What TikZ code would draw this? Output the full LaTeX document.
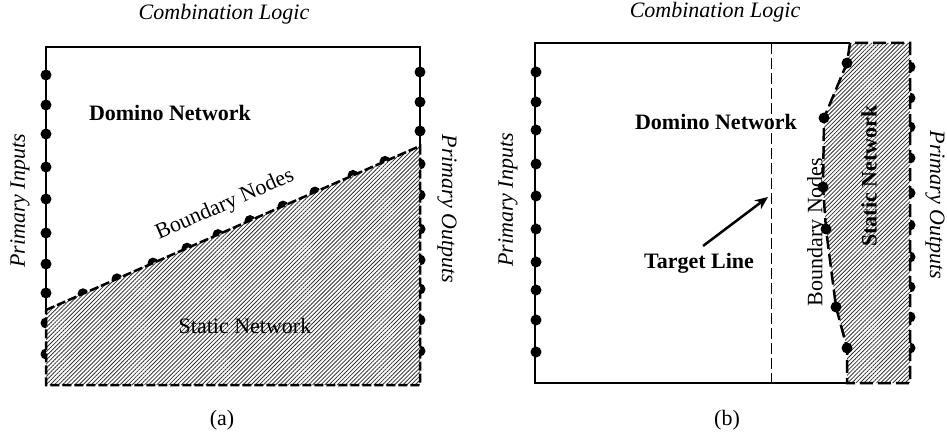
\documentclass[tikz,border=0pt]{standalone}
\usepackage{fontspec}
\setmainfont{Liberation Serif}
\usetikzlibrary{patterns.meta,arrows.meta}
\begin{document}
\begin{tikzpicture}[x=1pt,y=-1pt,
  edge/.style={line width=1.1pt},
  netborder/.style={line width=2.5pt, dash pattern=on 9pt off 3pt},
  netborderlong/.style={line width=2.5pt, dash pattern=on 13pt off 5pt},
  targetline/.style={line width=0.9pt, dash pattern=on 11pt off 4pt},
  pin/.style={circle, fill=black, inner sep=0pt, minimum size=11pt},
  hatch/.style={pattern={Lines[angle=45,distance=2.9pt,line width=0.8pt]}, pattern color=black!80},
  lbl/.style={font=\fontsize{22}{26}\selectfont, inner sep=0pt},
  lblit/.style={lbl, font=\fontsize{22}{26}\selectfont\itshape},
  lblbf/.style={lbl, font=\fontsize{22}{26}\selectfont\bfseries},
  pointer/.style={line width=2.5pt, -{Stealth[open, length=13pt, width=11pt]}}]
\useasboundingbox (0,0) rectangle (947,435);

% ---------------- (a) ----------------
\draw[edge] (46,310) -- (46,47) -- (420,47) -- (420,146);
\foreach \y [count=\i] in {75,105,134,167,199,233,264,293,323,354}
  \node[pin] (aIn\i) at (46,\y) {};
\foreach \y [count=\i] in {72,102,131,164,195,229,260,289,320,351}
  \node[pin] (aOut\i) at (420,\y) {};
\foreach \x [count=\i] in {83,117,153,187,218,250,283,315,353,385}
  \node[pin] (aBnd\i) at (\x,{310-(\x-46)*0.4385}) {};
\fill[white] (46,310) -- (420,146) -- (420,385) -- (46,385) -- cycle;
\fill[hatch] (46,310) -- (420,146) -- (420,385) -- (46,385) -- cycle;
\draw[netborder] (46,310) -- (420,146) -- (420,385) -- (46,385) -- cycle;

\node[lblit] (aTitle) at (224,14) {Combination Logic};
\node[lblbf] (aDomino) at (170,113) {Domino Network};
\node[lbl, rotate=23.7] (aBndLbl) at (225,205) {Boundary Nodes};
\node[lbl] (aStatic) at (245,326) {Static Network};
\node[lblit, rotate=90] (aPI) at (20,201) {Primary Inputs};
\node[lblit, rotate=-90] (aPO) at (447,209) {Primary Outputs};
\node[lbl] (aCap) at (222,420) {(a)};

% ---------------- (b) ----------------
\draw[edge] (850,43) -- (535,43) -- (535,383) -- (847,383);
\foreach \y [count=\i] in {72,102,130,164,196,229,262,290,320,352}
  \node[pin] (bIn\i) at (536,\y) {};
\foreach \y [count=\i] in {67,98,127,158,193,225,257,287,317,348}
  \node[pin] (bOut\i) at (910,\y) {};
\fill[white] (850,43) -- (847,63) -- (824,118) -- (823,187) -- (826,229)
  -- (836,307) -- (847,348) -- (847,383) -- (910,383) -- (910,43) -- cycle;
\fill[hatch] (850,43) -- (847,63) -- (824,118) -- (823,187) -- (826,229)
  -- (836,307) -- (847,348) -- (847,383) -- (910,383) -- (910,43) -- cycle;
\draw[netborderlong] (850,43) -- (847,63) -- (824,118) -- (823,187) -- (826,229)
  -- (836,307) -- (847,348) -- (847,383) -- (910,383) -- (910,43) -- cycle;
\foreach \p [count=\i] in {(847,63),(824,118),(823,187),(826,229),(836,307),(847,348)}
  \node[pin] (bBnd\i) at \p {};

\draw[targetline] (771,43) -- (771,383);

\node[lblit] (bTitle) at (715,12) {Combination Logic};
\node[lblbf] (bDomino) at (716,122) {Domino Network};
\node[lblbf] (bTarget) at (699,263) {Target Line};
\coordinate (bArrowTail) at (703,246);
\coordinate (bArrowTip) at (768,197);
\draw[pointer] (bArrowTail) -- (bArrowTip);
\node[lbl, rotate=90] (bBndLbl) at (817,232) {Boundary Nodes};
\node[lblbf, rotate=90] (bStatic) at (869,176) {Static Network};
\node[lblit, rotate=90] (bPI) at (508,200) {Primary Inputs};
\node[lblit, rotate=-90] (bPO) at (935,205) {Primary Outputs};
\node[lbl] (bCap) at (727,420) {(b)};
\end{tikzpicture}
\end{document}
